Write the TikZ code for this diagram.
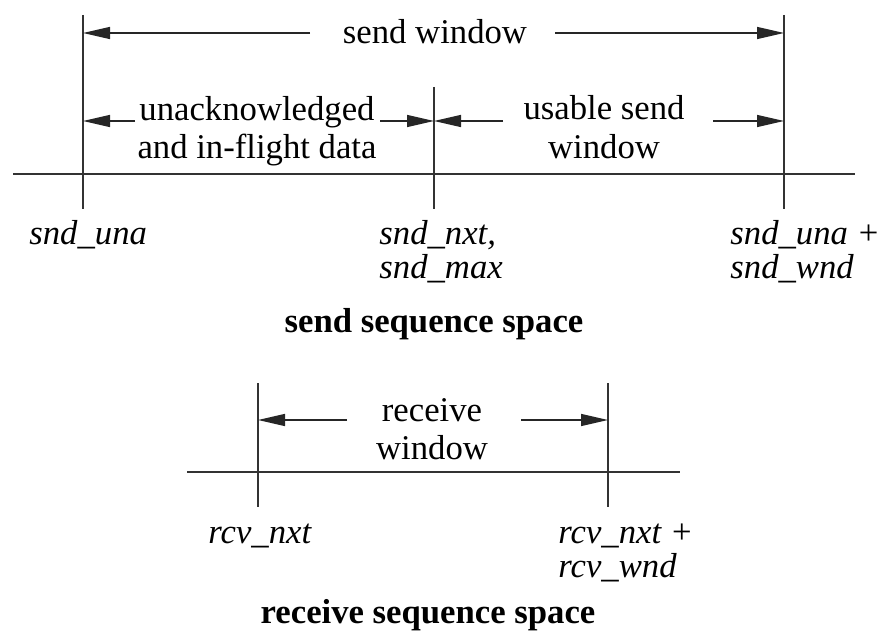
\documentclass[tikz,border=0pt]{standalone}
\usepackage{fontspec}
\setmainfont{Liberation Serif}
\usetikzlibrary{arrows.meta}
\tikzset{
  warrow/.style={-{Triangle[length=13.5pt,width=6pt]}, line width=0.7pt, black!85},
  seqline/.style={line width=0.8pt, black!80},
  wtext/.style={inner sep=0pt, align=center, font=\fontsize{17.35}{19.2}\selectfont},
  seqlabel/.style={inner sep=0pt, align=left, font=\fontsize{17.35}{16.8}\selectfont\itshape},
  seqtitle/.style={inner sep=0pt, anchor=base, font=\fontsize{17.35}{19}\selectfont\bfseries}
}

\begin{document}
\begin{tikzpicture}[x=0.5pt, y=-0.5pt]
    \useasboundingbox (0,0) rectangle (881,635);
    \coordinate (unaT) at (83,15);
    \coordinate (unaB) at (83,209);
    \coordinate (nxtT) at (434,87);
    \coordinate (nxtB) at (434,209);
    \coordinate (endT) at (784,15);
    \coordinate (endB) at (784,209);
    \coordinate (sndL) at (13,174);
    \coordinate (sndR) at (855,174);
    \coordinate (rnxtT) at (258,383);
    \coordinate (rnxtB) at (258,507);
    \coordinate (rendT) at (608,383);
    \coordinate (rendB) at (608,507);
    \coordinate (rcvL) at (187,472);
    \coordinate (rcvR) at (680,472);
    \draw[seqline] (unaT) -- (unaB);
    \draw[seqline] (nxtT) -- (nxtB);
    \draw[seqline] (endT) -- (endB);
    \draw[seqline] (sndL) -- (sndR);
    \draw[seqline] (rnxtT) -- (rnxtB);
    \draw[seqline] (rendT) -- (rendB);
    \draw[seqline] (rcvL) -- (rcvR);
    \node[wtext, anchor=base] (sendwin) at (435,44) {send window};
    \node[wtext] (unack) at (257,131) {unacknowledged\\and in-flight data};
    \node[wtext] (usable) at (604,127) {usable send\\window};
    \node[wtext] (rcvwin) at (432,429) {receive\\window};
    \coordinate (sw1) at (310,33);
    \coordinate (sw2) at (555,33);
    \coordinate (ua1) at (135,121);
    \coordinate (ua2) at (380,121);
    \coordinate (us1) at (503,121);
    \coordinate (us2) at (713,121);
    \coordinate (rw1) at (347,420);
    \coordinate (rw2) at (521,420);
    \draw[warrow] (sw1) -- (sw1 -| unaT);
    \draw[warrow] (sw2) -- (sw2 -| endT);
    \draw[warrow] (ua1) -- (ua1 -| unaT);
    \draw[warrow] (ua2) -- (ua2 -| nxtT);
    \draw[warrow] (us1) -- (us1 -| nxtT);
    \draw[warrow] (us2) -- (us2 -| endT);
    \draw[warrow] (rw1) -- (rw1 -| rnxtT);
    \draw[warrow] (rw2) -- (rw2 -| rendT);
    \node[seqlabel, anchor=base west] (una) at (29,245) {snd\_una};
    \node[seqlabel, anchor=west] (nxt) at (379,252) {snd\_nxt,\\snd\_max};
    \node[seqlabel, anchor=west] (wend) at (730,252) {snd\_una +\\snd\_wnd};
    \node[seqtitle] (sendsp) at (434,333) {send sequence space};
    \node[seqlabel, anchor=base west] (rnxt) at (208,543) {rcv\_nxt};
    \node[seqlabel, anchor=west] (rend) at (558,553) {rcv\_nxt +\\rcv\_wnd};
    \node[seqtitle] (rcvsp) at (428,623) {receive sequence space};
  \end{tikzpicture}
\end{document}
